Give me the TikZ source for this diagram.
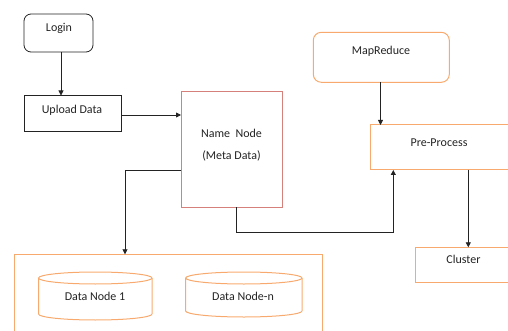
\documentclass[tikz,border=0pt]{standalone}
\usepackage{fontspec}
\setmainfont{Carlito}
\usetikzlibrary{arrows.meta}
\definecolor{boxorange}{RGB}{248,170,110}
\definecolor{boxred}{RGB}{214,128,124}
\definecolor{ink}{RGB}{35,35,35}
\tikzset{
  lbl/.style={font=\fontsize{12}{14}\selectfont, text=ink, inner sep=0pt},
  wire/.style={draw=ink, line width=0.8pt},
  arr/.style={wire, -{Triangle[length=5pt,width=5pt]}},
  blackbox/.style={draw=ink, line width=0.8pt},
  orangebox/.style={draw=boxorange, line width=1pt},
}
\begin{document}
\begin{tikzpicture}[x=1pt,y=-1pt]
\useasboundingbox (0,0) rectangle (508,331);

% boxes
\draw[blackbox, rounded corners=7pt] (24,14) rectangle (93,52);
\node[lbl] (login) at (59,28) {Login};
\coordinate (loginS) at (61,52);

\draw[blackbox] (24,95.5) rectangle (121.5,131);
\node[lbl] (upload) at (72,110) {Upload Data};
\coordinate (uploadN) at (61,95.5);
\coordinate (uploadE) at (121.5,115);

\draw[draw=boxred, line width=1pt] (181,92) rectangle (282,207);
\node[lbl] (nn) at (231.5,133) {Name\ \ Node};
\node[lbl] (meta) at (231.5,156) {(Meta Data)};
\coordinate (nnW) at (181,115);
\coordinate (nnL) at (181,170.3);
\coordinate (nnS) at (236.7,207);

\draw[orangebox, rounded corners=8pt] (313.3,32.3) rectangle (449.3,82.3);
\node[lbl] (mr) at (381,51.7) {MapReduce};
\coordinate (mrS) at (380.5,82.3);

\draw[orangebox] (370,125) rectangle (512,170);
\node[lbl] (pp) at (439,142.3) {Pre-Process};
\coordinate (ppN) at (380.5,125);
\coordinate (ppS) at (393.3,170);
\coordinate (ppD) at (468.3,170);

\draw[orangebox] (415.7,247.3) rectangle (512,282.3);
\node[lbl] (cl) at (463.5,259) {Cluster};
\coordinate (clN) at (468.3,247.3);

% data node container
\draw[orangebox] (14.5,335) -- (14.5,254.3) -- (322.7,254.3) -- (322.7,335);
\coordinate (contN) at (125,254.3);

% storage cylinders
\foreach \xl/\xr/\yt/\yb in {38.5/152/278/314, 185.7/302/278/311}{
  \pgfmathsetmacro{\xc}{(\xl+\xr)/2}
  \pgfmathsetmacro{\rx}{(\xr-\xl)/2}
  \draw[orangebox] (\xc,\yt) ellipse [x radius=\rx, y radius=6];
  \draw[orangebox] (\xl,\yt) -- (\xl,\yb) arc[start angle=180, end angle=360, x radius=\rx, y radius=-6] -- (\xr,\yt);
}
\node[lbl] (dn1) at (95,296.5) {Data Node 1};
\node[lbl] (dnn) at (243,296) {Data Node-n};

% connectors
\draw[arr] (loginS) -- (uploadN);
\draw[arr] (uploadE) -- (nnW);
\draw[arr] (nnL) -| (contN);
\draw[arr] (nnS) |- (393.3,232.7) -- (ppS);
\draw[arr] (mrS) -- (ppN);
\draw[arr] (ppD) -- (clN);
\end{tikzpicture}
\end{document}
